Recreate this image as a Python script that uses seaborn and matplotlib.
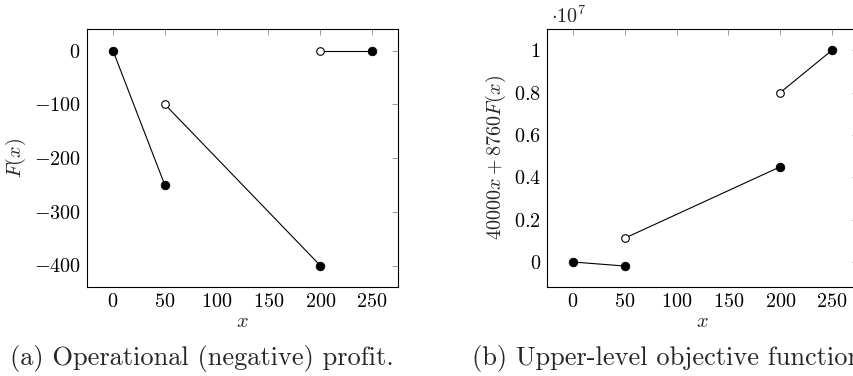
import matplotlib
matplotlib.use("Agg")
import matplotlib.pyplot as plt
import matplotlib.ticker as mticker
import numpy as np
import pandas as pd
import seaborn as sns

# ---- data ----
x_pts = [0, 50, 50, 200, 200, 250]
F_vals = [0, -250, -100, -400, 0, 0]                 # F(x)
obj_vals = [0, -0.019, 0.1124, 0.4496, 0.8, 1.0]     # 40000x + 8760F(x), in units of 1e7
segment = [1, 1, 2, 2, 3, 3]
filled = [True, True, False, True, False, True]

x_ticks = [0, 50, 100, 150, 200, 250]
left_yticks = [-400, -300, -200, -100, 0]
right_yticks = [0, 0.2, 0.4, 0.6, 0.8, 1.0]
right_ytick_labels = ["0", "0.2", "0.4", "0.6", "0.8", "1"]

captions = ["(a) Operational (negative) profit.", "(b) Upper-level objective function"]

sns.set_theme(style="white")
plt.rcParams["font.family"] = ["serif"]
plt.rcParams["font.serif"] = ["cmr10", "DejaVu Serif"]
plt.rcParams["mathtext.fontset"] = "cm"
plt.rcParams["axes.formatter.use_mathtext"] = True
plt.rcParams["axes.unicode_minus"] = True

df = pd.DataFrame({"x": x_pts, "F": F_vals, "obj": obj_vals,
                   "seg": segment, "filled": filled})

W, H = 854, 376
fig = plt.figure(figsize=(W / 100, H / 100), dpi=100)

def px_axes(l, t, r, b):
    return fig.add_axes([l / W, 1 - b / H, (r - l) / W, (b - t) / H])

ax1 = px_axes(87, 29, 398, 287)
ax2 = px_axes(547, 29, 858, 287)

FS = 14.5
for ax, col, yt in [(ax1, "F", left_yticks), (ax2, "obj", right_yticks)]:
    sns.lineplot(data=df, x="x", y=col, units="seg", estimator=None,
                 color="black", linewidth=0.8, ax=ax, legend=False)
    sns.scatterplot(data=df[df["filled"]], x="x", y=col, ax=ax, color="black",
                    edgecolor="black", s=38, linewidth=0.6, zorder=5, legend=False)
    sns.scatterplot(data=df[~df["filled"]], x="x", y=col, ax=ax, color="white",
                    edgecolor="black", s=30, linewidth=0.8, zorder=5, legend=False)
    ax.set_xlim(-25, 275)
    ax.set_xticks(x_ticks)
    ax.set_yticks(yt)
    ax.tick_params(direction="in", top=True, right=True, length=4.5, width=0.6,
                   color="#8a8a8a", labelsize=FS, labelcolor="black", pad=4.5)
    for s in ax.spines.values():
        s.set_color("black")
        s.set_linewidth(0.8)
    ax.set_xlabel("$x$", fontsize=FS, labelpad=1)
    ax.grid(False)

ax1.set_ylim(-440, 40)
ax1.set_ylabel("$F(x)$", fontsize=FS, labelpad=4)
ax1.xaxis.set_major_formatter(mticker.FuncFormatter(lambda v, p: f"${v:.0f}$"))
ax1.yaxis.set_major_formatter(mticker.FuncFormatter(lambda v, p: f"${v:.0f}$"))

ax2.set_ylim(-0.118, 1.10)
ax2.set_ylabel("$40000x + 8760F(x)$", fontsize=FS, labelpad=4)
ax2.xaxis.set_major_formatter(mticker.FuncFormatter(lambda v, p: f"${v:.0f}$"))
ax2.yaxis.set_major_formatter(mticker.FixedFormatter([f"${t}$" for t in right_ytick_labels]))
fig.text(551 / W, 1 - 16 / H, r"$\cdot 10^{7}$", fontsize=FS, ha="left", va="center")

fig.text(10 / W, 1 - 365 / H, captions[0], fontsize=19, ha="left", va="baseline")
fig.text(472 / W, 1 - 365 / H, captions[1], fontsize=19, ha="left", va="baseline")

fig.savefig("out.png", dpi=100)
